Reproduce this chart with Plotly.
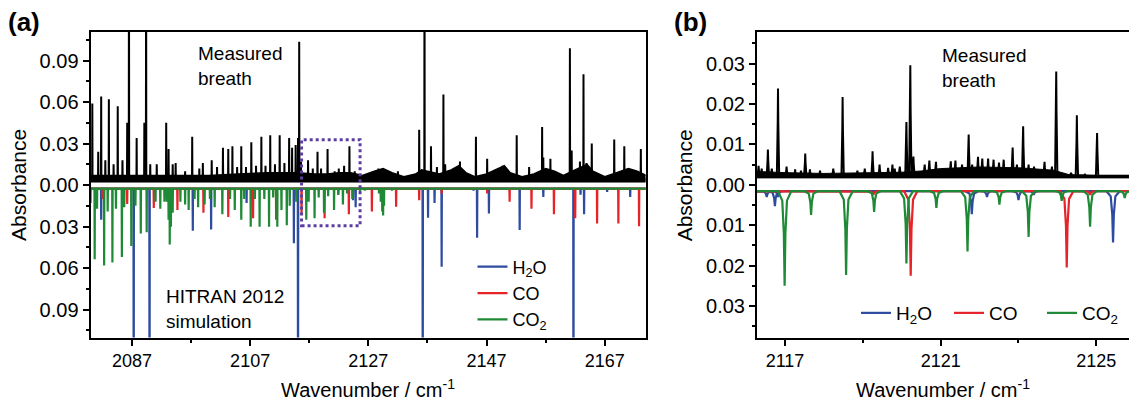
import plotly.graph_objects as go

# ---------------- Panel (a) data ----------------
a_meas_wn = [2080.3, 2081.3, 2081.8, 2082.5, 2083.1, 2083.9, 2084.6, 2085.4, 2086.2, 2086.5,
             2087.8, 2089.1, 2089.4, 2090.1, 2091.2, 2092.8, 2093.2, 2093.9, 2094.4, 2096.0,
             2097.2, 2098.4, 2099.0, 2100.5, 2101.4, 2102.4, 2103.3, 2104.0, 2104.8, 2105.5,
             2106.3, 2107.2, 2108.0, 2108.9, 2109.6, 2110.4, 2111.2, 2112.0, 2112.8, 2113.6,
             2114.1, 2114.7, 2115.1, 2115.3, 2115.6, 2116.8, 2117.6, 2118.4, 2119.0, 2120.1,
             2121.3, 2122.0, 2122.9, 2123.8, 2124.7, 2125.6, 2128.7, 2132.0, 2135.6, 2136.5,
             2137.6, 2138.6, 2139.7, 2140.0, 2142.5, 2145.2, 2147.1, 2149.7, 2152.1, 2154.2,
             2156.4, 2156.6, 2157.8, 2161.1, 2161.4, 2162.8, 2163.4, 2163.9, 2164.8, 2168.6,
             2170.3, 2171.1, 2173.1]
a_meas_abs = [0.059, 0.024, 0.064, 0.018, 0.062, 0.015, 0.057, 0.018, 0.045, 0.200,
              0.034, 0.045, 0.200, 0.015, 0.015, 0.045, 0.026, 0.015, 0.016, 0.010,
              0.035, 0.012, 0.016, 0.018, 0.013, 0.027, 0.026, 0.028, 0.013, 0.028,
              0.013, 0.031, 0.014, 0.035, 0.014, 0.036, 0.015, 0.036, 0.016, 0.034,
              0.027, 0.029, 0.034, 0.1035, 0.017, 0.018, 0.012, 0.024, 0.012, 0.026,
              0.010, 0.012, 0.014, 0.028, 0.010, 0.008, 0.012, 0.010, 0.040, 0.200,
              0.028, 0.013, 0.0655, 0.015, 0.017, 0.035, 0.019, 0.014, 0.036, 0.013,
              0.042, 0.020, 0.019, 0.0988, 0.025, 0.017, 0.080, 0.016, 0.030, 0.033,
              0.028, 0.008, 0.026]

# noise floor (upper envelope of the dense baseline band) of the measured spectrum
a_floor_wn = [2080, 2085, 2090, 2095, 2100, 2105, 2110, 2115, 2118, 2120, 2122, 2124, 2126,
              2128, 2129.5, 2131, 2133, 2135, 2136, 2137, 2139, 2141, 2142.3, 2143.5, 2145,
              2147, 2149, 2150, 2151, 2153, 2155, 2157, 2158.5, 2160, 2161.5, 2163, 2164,
              2165, 2167, 2169, 2171, 2172.5, 2174]
a_floor_abs = [0.007, 0.007, 0.007, 0.007, 0.007, 0.008, 0.009, 0.009, 0.008, 0.008, 0.009,
               0.009, 0.007, 0.010, 0.012, 0.009, 0.006, 0.008, 0.011, 0.010, 0.008, 0.011,
               0.014, 0.009, 0.006, 0.008, 0.012, 0.014, 0.009, 0.006, 0.008, 0.012, 0.010,
               0.007, 0.010, 0.013, 0.015, 0.010, 0.006, 0.009, 0.012, 0.010, 0.007]
a_floor_low = 0.0022

# HITRAN 2012 simulation (absorbance, drawn downward)
a_h2o_wn = [2081.8, 2087.3, 2089.98, 2097.3, 2100.4, 2106.4, 2114.4, 2115.1, 2121.9, 2124.4,
            2124.85, 2136.2, 2137.1, 2138.2, 2139.4, 2144.8, 2145.4, 2147.4, 2152.6, 2156.6,
            2161.7, 2162.9, 2163.5, 2167.4, 2171.3]
a_h2o_abs = [0.025, 0.200, 0.200, 0.033, 0.032, 0.013, 0.042, 0.200, 0.007, 0.011,
             0.016, 0.200, 0.0236, 0.013, 0.059, 0.004, 0.038, 0.0205, 0.0325, 0.0085,
             0.200, 0.007, 0.021, 0.005, 0.0085]
a_co_wn = [2082.0, 2086.2, 2090.7, 2094.7, 2099.1, 2103.3, 2107.5, 2111.4, 2115.7, 2119.6,
           2123.7, 2127.6, 2131.7, 2135.6, 2139.4, 2147.1, 2150.9, 2154.6, 2158.4, 2162.0,
           2165.7, 2169.3, 2172.8]
a_co_abs = [0.010, 0.0137, 0.0166, 0.018, 0.020, 0.023, 0.024, 0.025, 0.0214, 0.024,
            0.021, 0.019, 0.0157, 0.011, 0.006, 0.006, 0.012, 0.017, 0.021, 0.024,
            0.0277, 0.0277, 0.0297]
a_co2_wn = [2080.0, 2080.7, 2081.1, 2082.3, 2082.9, 2083.7, 2084.3, 2085.3, 2085.7, 2086.9,
            2087.6, 2088.5, 2089.5, 2091.0, 2091.8, 2092.5, 2092.9, 2093.2, 2093.4, 2093.6,
            2093.9, 2095.2, 2096.0, 2096.6, 2097.6, 2098.2, 2099.3, 2100.2, 2101.0, 2102.3,
            2103.6, 2104.4, 2105.5, 2106.0, 2107.1, 2107.8, 2108.6, 2109.4, 2110.2, 2110.9,
            2111.6, 2112.3, 2113.2, 2113.7, 2114.8, 2116.5, 2116.9, 2117.9, 2118.6, 2119.5,
            2120.2, 2121.2, 2121.9, 2122.7, 2123.4, 2124.3, 2125.6, 2126.4, 2128.8, 2129.1,
            2129.35, 2129.5, 2129.65, 2131.0, 2133.2]
a_co2_abs = [0.013, 0.0535, 0.017, 0.058, 0.019, 0.056, 0.017, 0.052, 0.016, 0.044,
             0.015, 0.035, 0.034, 0.012, 0.017, 0.012, 0.012, 0.025, 0.043, 0.030,
             0.020, 0.012, 0.014, 0.018, 0.010, 0.016, 0.014, 0.010, 0.016, 0.021,
             0.010, 0.018, 0.025, 0.010, 0.030, 0.010, 0.030, 0.010, 0.030, 0.009,
             0.030, 0.018, 0.029, 0.015, 0.012, 0.025, 0.012, 0.024, 0.009, 0.020,
             0.008, 0.018, 0.007, 0.014, 0.006, 0.010, 0.005, 0.004, 0.006, 0.012,
             0.019, 0.022, 0.015, 0.004, 0.003]

# ---------------- Panel (b) data ----------------
b_meas_wn = [2116.32, 2116.40, 2116.56, 2116.66, 2116.82, 2117.04, 2117.26, 2117.41, 2117.52,
             2117.64, 2117.90, 2118.24, 2118.48, 2118.86, 2119.05, 2119.25, 2119.43, 2119.65,
             2119.76, 2119.82, 2119.95, 2120.12, 2120.22, 2120.30, 2120.59, 2120.71, 2120.88,
             2121.04, 2121.26, 2121.38, 2121.55, 2121.72, 2121.81, 2121.96, 2122.07, 2122.22,
             2122.36, 2122.50, 2122.62, 2122.85, 2122.96, 2123.12, 2123.26, 2123.40, 2123.52,
             2123.67, 2123.86, 2123.97, 2124.20, 2124.35, 2124.50, 2124.71, 2125.02, 2125.39]
b_meas_abs = [0.0047, 0.0040, 0.0087, 0.0040, 0.0238, 0.0045, 0.0038, 0.0035, 0.0077,
              0.0038, 0.0035, 0.0040, 0.0217, 0.0035, 0.0040, 0.0083, 0.0050, 0.0042,
              0.0050, 0.0040, 0.0045, 0.0155, 0.0296, 0.0070, 0.0050, 0.0060, 0.0057,
              0.0035, 0.0058, 0.0060, 0.0050, 0.0124, 0.0050, 0.0069, 0.0065, 0.0065,
              0.0062, 0.0055, 0.0062, 0.0092, 0.0050, 0.0145, 0.0050, 0.0045, 0.0035,
              0.0057, 0.0045, 0.0280, 0.0025, 0.0030, 0.0172, 0.0025, 0.0128, 0.0022]
b_floor_wn = [2116.0, 2116.5, 2117.0, 2118.0, 2119.0, 2120.0, 2120.5, 2121.0, 2122.0, 2123.0,
              2123.9, 2124.3, 2125.0, 2126.0]
b_floor_abs = [0.0034, 0.0032, 0.0030, 0.0028, 0.0029, 0.0031, 0.0034, 0.0040, 0.0044, 0.0042,
               0.0036, 0.0025, 0.0023, 0.0023]
b_floor_low = 0.0017

b_h2o_wn = [2116.53, 2116.74, 2116.82, 2121.80, 2122.19, 2123.00, 2123.39, 2125.43]
b_h2o_abs = [0.0030, 0.0053, 0.0030, 0.0073, 0.0030, 0.0038, 0.0025, 0.0143]
b_co_wn = [2119.27, 2120.23, 2124.24, 2124.84]
b_co_abs = [0.0025, 0.0225, 0.0205, 0.0025]
b_co2_wn = [2116.99, 2117.67, 2118.57, 2119.29, 2120.12, 2120.89, 2121.69, 2122.51,
            2123.26, 2124.11, 2124.84, 2125.73]
b_co2_abs = [0.0250, 0.0075, 0.0223, 0.0067, 0.0195, 0.0057, 0.0165, 0.0049,
             0.0129, 0.0040, 0.0104, 0.0033]

# ---------------- Axis ticks ----------------
a_xtick_vals = [2087, 2107, 2127, 2147, 2167]
a_ytick_vals = [-0.09, -0.06, -0.03, 0.0, 0.03, 0.06, 0.09]
a_ytick_text = ["0.09", "0.06", "0.03", "0.00", "0.03", "0.06", "0.09"]
b_xtick_vals = [2117, 2121, 2125]
b_ytick_vals = [-0.03, -0.02, -0.01, 0.0, 0.01, 0.02, 0.03]
b_ytick_text = ["0.03", "0.02", "0.01", "0.00", "0.01", "0.02", "0.03"]

# ---------------- styles ----------------
FONT = "Liberation Sans, Arial, Helvetica, sans-serif"
C_H2O = "#2D4B9F"
C_CO = "#E52329"
C_CO2 = "#1F8A35"
C_BOX = "#5B3FA0"

A_RANGE = [2080.0, 2173.9]
B_RANGE = [2116.28, 2125.84]


def stick_trace_xy(wn, vals, base, sign, profile, xr):
    """Turn a peak list into a line path (baseline + peaks) using a drawing profile."""
    xs, ys = [xr[0] - 1], [base]
    for w, v in sorted(zip(wn, vals)):
        tip = sign * v
        for dx, frac in profile:
            xs.append(w + dx)
            ys.append(base + frac * (tip - base))
    xs.append(xr[1] + 1)
    ys.append(base)
    return xs, ys


PROF_A = [(-0.035, 0.0), (0.0, 1.0), (0.035, 0.0)]
PROF_B_MEAS = [(-0.03, 0.0), (-0.008, 0.6), (0.0, 1.0), (0.008, 0.6), (0.03, 0.0)]
PROF_B_SIM = [(-0.17, 0.0), (-0.06, 0.1), (-0.02, 0.45), (0.0, 1.0),
              (0.02, 0.45), (0.06, 0.1), (0.17, 0.0)]

fig = go.Figure()

# ---- panel (a) measured ----
fig.add_trace(go.Scatter(x=a_floor_wn, y=[a_floor_low] * len(a_floor_wn), mode="lines",
                         line=dict(color="black", width=1), showlegend=False,
                         xaxis="x", yaxis="y", hoverinfo="skip"))
fig.add_trace(go.Scatter(x=a_floor_wn, y=a_floor_abs, mode="lines", fill="tonexty",
                         fillcolor="black", line=dict(color="black", width=1.5),
                         showlegend=False, xaxis="x", yaxis="y", hoverinfo="skip"))
x, y = stick_trace_xy(a_meas_wn, a_meas_abs, 0.004, 1, PROF_A, A_RANGE)
fig.add_trace(go.Scatter(x=x, y=y, mode="lines", line=dict(color="black", width=2),
                         showlegend=False, xaxis="x", yaxis="y", name="Measured breath"))

# ---- panel (a) simulation ----
for wn, vals, col, name in [(a_h2o_wn, a_h2o_abs, C_H2O, "H<sub>2</sub>O"),
                            (a_co_wn, a_co_abs, C_CO, "CO"),
                            (a_co2_wn, a_co2_abs, C_CO2, "CO<sub>2</sub>")]:
    x, y = stick_trace_xy(wn, vals, -0.0025, -1, PROF_A, A_RANGE)
    fig.add_trace(go.Scatter(x=x, y=y, mode="lines", line=dict(color=col, width=2.2),
                             name=name, legend="legend", xaxis="x", yaxis="y"))

# ---- panel (b) measured ----
fig.add_trace(go.Scatter(x=b_floor_wn, y=[b_floor_low] * len(b_floor_wn), mode="lines",
                         line=dict(color="black", width=1), showlegend=False,
                         xaxis="x2", yaxis="y2", hoverinfo="skip"))
fig.add_trace(go.Scatter(x=b_floor_wn, y=b_floor_abs, mode="lines", fill="tonexty",
                         fillcolor="black", line=dict(color="black", width=1),
                         showlegend=False, xaxis="x2", yaxis="y2", hoverinfo="skip"))
x, y = stick_trace_xy(b_meas_wn, b_meas_abs, 0.0022, 1, PROF_B_MEAS, B_RANGE)
fig.add_trace(go.Scatter(x=x, y=y, mode="lines", line=dict(color="black", width=2),
                         showlegend=False, xaxis="x2", yaxis="y2"))

# ---- panel (b) simulation ----
for wn, vals, col, name in [(b_h2o_wn, b_h2o_abs, C_H2O, "H<sub>2</sub>O"),
                            (b_co_wn, b_co_abs, C_CO, "CO"),
                            (b_co2_wn, b_co2_abs, C_CO2, "CO<sub>2</sub>")]:
    x, y = stick_trace_xy(wn, vals, -0.0016, -1, PROF_B_SIM, B_RANGE)
    fig.add_trace(go.Scatter(x=x, y=y, mode="lines", line=dict(color=col, width=2.2),
                             name=name, legend="legend2", xaxis="x2", yaxis="y2"))

axis_common = dict(showgrid=False, zeroline=False, showline=True, linecolor="black",
                   linewidth=2, ticks="outside", ticklen=6, tickwidth=1.5, tickcolor="black",
                   automargin=False)
XFONT = dict(family=FONT, size=18, color="black")
YFONT = dict(family=FONT, size=20, color="black")
MINOR = dict(ticks="outside", ticklen=3, tickwidth=1.5, tickcolor="black")

YDOM = [0.1646, 0.9208]
fig.update_layout(
    width=1135, height=404,
    margin=dict(l=0, r=0, t=0, b=0),
    paper_bgcolor="white", plot_bgcolor="white",
    font=dict(family=FONT, size=18, color="black"),
    xaxis=dict(domain=[0.0802, 0.5718], range=A_RANGE, anchor="y", mirror=True,
               tickmode="array", tickvals=a_xtick_vals, tickfont=XFONT,
               minor=dict(dtick=10, tick0=2087, **MINOR), **axis_common),
    yaxis=dict(domain=YDOM, range=[-0.1101, 0.1106], anchor="x", mirror=True,
               tickmode="array", tickvals=a_ytick_vals, ticktext=a_ytick_text, tickfont=YFONT,
               minor=dict(dtick=0.015, tick0=0, **MINOR), **axis_common),
    xaxis2=dict(domain=[0.6705, 1.0], range=B_RANGE, anchor="y2", mirror=True,
                tickmode="array", tickvals=b_xtick_vals, tickfont=XFONT,
                minor=dict(dtick=2, tick0=2117, **MINOR), **axis_common),
    yaxis2=dict(domain=YDOM, range=[-0.0378, 0.0378], anchor="x2", mirror=False,
                tickmode="array", tickvals=b_ytick_vals, ticktext=b_ytick_text, tickfont=YFONT,
                minor=dict(dtick=0.005, tick0=0, **MINOR), **axis_common),
    legend=dict(x=0.4185, y=0.385, xanchor="left", yanchor="top", bgcolor="rgba(0,0,0,0)",
                traceorder="normal",
                font=dict(family=FONT, size=18, color="black"), tracegroupgap=0),
    legend2=dict(orientation="h", x=0.7585, y=0.2252, xanchor="left", yanchor="middle",
                 bgcolor="rgba(0,0,0,0)", entrywidth=48, entrywidthmode="pixels",
                 traceorder="normal",
                 font=dict(family=FONT, size=19, color="black")),
    shapes=[dict(type="rect", xref="x", yref="y", x0=2115.7, x1=2125.6, y0=-0.0294, y1=0.0328,
                 line=dict(color=C_BOX, width=3, dash="dot"))],
)

W, H = 1135.0, 404.0
ann = [
    dict(text="<b>(a)</b>", x=24 / W, y=1 - 22 / H, size=26, xa="center", ya="middle", ang=0),
    dict(text="<b>(b)</b>", x=694 / W, y=1 - 22 / H, size=26, xa="center", ya="middle", ang=0),
    dict(text="Measured<br>breath", x=197 / W, y=1 - 66 / H, size=19, xa="left", ya="middle", ang=0),
    dict(text="HITRAN 2012<br>simulation", x=165 / W, y=1 - 309 / H, size=19, xa="left", ya="middle", ang=0),
    dict(text="Measured<br>breath", x=945 / W, y=1 - 68 / H, size=19, xa="left", ya="middle", ang=0),
    dict(text="Absorbance", x=19 / W, y=1 - 185 / H, size=21, xa="center", ya="middle", ang=-90),
    dict(text="Absorbance", x=689 / W, y=1 - 185 / H, size=21, xa="center", ya="middle", ang=-90),
    dict(text="Wavenumber / cm<sup>-1</sup>", x=370 / W, y=1 - 388 / H, size=20, xa="center", ya="middle", ang=0),
    dict(text="Wavenumber / cm<sup>-1</sup>", x=948 / W, y=1 - 388 / H, size=20, xa="center", ya="middle", ang=0),
]
for a in ann:
    fig.add_annotation(text=a["text"], x=a["x"], y=a["y"], xref="paper", yref="paper",
                       xanchor=a["xa"], yanchor=a["ya"], textangle=a["ang"], showarrow=False,
                       align="left", font=dict(family=FONT, size=a["size"], color="black"))

fig.write_html("out.html", config={"displayModeBar": False},
               post_script="document.body.style.margin='0';document.body.style.overflow='hidden';")
